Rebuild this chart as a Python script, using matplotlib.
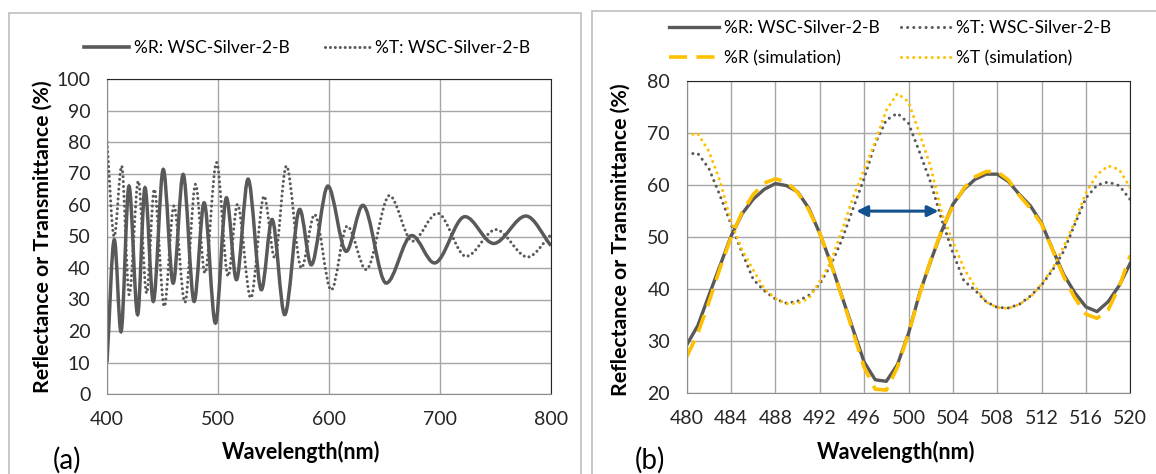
import matplotlib
matplotlib.use("Agg")
import matplotlib.pyplot as plt
from matplotlib.path import Path
from matplotlib.patches import PathPatch, Rectangle
from matplotlib.lines import Line2D

plt.rcParams['font.family'] = ['Lato', 'DejaVu Sans']

# ---- panel (a): turning points ----
r_wl = [400, 406.6, 412.6, 419.8, 427.6, 434.2, 441.7, 450.7, 459.6, 468.6,
        478.5, 487.5, 497.7, 507.6, 516.6, 527.1, 539.1, 548.7, 560.1, 573.6,
        584, 599, 615.5, 630.5, 651.5, 674.6, 695, 722.5, 748.3, 777.4, 800]
r_val = [10, 49, 19.8, 66, 25.2, 65.5, 29.4, 71.3, 35.2, 69.7,
         29.4, 60.7, 22.5, 62.3, 36.3, 68.2, 33.1, 55.4, 25.2, 58.6,
         41, 66, 45.3, 59.9, 35.2, 50.3, 41.6, 56.3, 47.8, 56.5, 47.1]

t_wl = [400, 406.5, 413.2, 420, 428.2, 435.7, 442.6, 451.6, 460.3, 470.2,
        479.8, 488.2, 498.7, 509.1, 517.5, 529.5, 541.5, 551.1, 561.6, 575.1,
        587, 602, 616.4, 633.5, 654.5, 675, 697.7, 723.5, 750.4, 778.9, 800]
t_val = [80, 50, 72.4, 31.5, 67.6, 32, 65, 27.8, 59.7, 29.1,
         66.6, 38.4, 73.5, 37.4, 60.2, 30.5, 62.8, 43.2, 72.4, 40,
         57, 33, 53.3, 39.5, 63, 48.5, 57.4, 43.7, 52.2, 43.5, 50.6]

# ---- panel (b): 1 nm readings, measured vs simulation ----
wl_b = list(range(480, 521))
r_meas = [29.3, 33.0, 38.8, 44.5, 50.2, 54.5, 57.3, 59.2, 60.3, 59.9,
          58.7, 55.6, 50.7, 45.0, 38.6, 32.3, 26.0, 22.6, 22.3, 25.5,
          31.5, 39.2, 45.4, 51.2, 56.3, 59.2, 61.1, 62.1, 62.1, 60.7,
          58.2, 56.0, 52.7, 47.6, 42.8, 39.3, 36.6, 35.7, 37.6, 40.7, 45.0]
t_meas = [66.0, 66.1, 63.2, 58.0, 52.5, 47.0, 41.9, 39.7, 38.1, 37.3,
          37.7, 38.8, 41.0, 44.7, 49.5, 55.5, 61.3, 68.0, 72.5, 73.8,
          71.9, 66.3, 60.5, 53.3, 47.0, 41.6, 39.8, 37.6, 36.5, 36.4,
          37.1, 38.7, 40.8, 43.7, 47.3, 52.5, 57.5, 60.0, 60.6, 59.9, 57.2]
r_sim = [27.0, 31.5, 37.5, 44.0, 50.0, 54.8, 58.2, 60.4, 61.2, 60.6,
         58.6, 55.3, 50.7, 45.0, 38.5, 31.8, 25.0, 20.8, 20.6, 25.0,
         31.5, 39.0, 45.6, 51.3, 56.0, 59.4, 61.6, 62.6, 62.6, 61.0,
         58.0, 55.5, 52.5, 47.5, 42.4, 38.3, 35.2, 34.4, 36.0, 40.5, 46.5]
t_sim = [69.6, 69.9, 66.5, 60.8, 53.0, 47.5, 43.7, 40.1, 38.2, 37.2,
         37.3, 38.2, 41.5, 45.3, 51.3, 57.6, 63.0, 68.3, 74.4, 77.6,
         76.0, 69.9, 63.5, 54.6, 49.1, 44.0, 40.5, 37.5, 36.5, 36.3,
         37.1, 38.5, 41.0, 44.0, 48.2, 53.0, 58.5, 62.0, 63.7, 63.0, 59.5]

arrow_span = (495.3, 502.7)
arrow_level = 55

GREY = "#595959"
GOLD = "#FFC000"
BLUE = "#12508E"
W, H = 1156, 474


def smooth_path(xs, ys):
    """Bezier path through the points, flat at every turning point."""
    n = len(xs)
    slopes = []
    for i in range(n):
        if i == 0:
            s = (ys[1] - ys[0]) / (xs[1] - xs[0])
        elif i == n - 1:
            s = (ys[-1] - ys[-2]) / (xs[-1] - xs[-2])
        elif (ys[i] - ys[i - 1]) * (ys[i + 1] - ys[i]) <= 0:
            s = 0.0
        else:
            s = (ys[i + 1] - ys[i - 1]) / (xs[i + 1] - xs[i - 1])
        slopes.append(s)
    verts = [(xs[0], ys[0])]
    codes = [Path.MOVETO]
    for i in range(n - 1):
        d = (xs[i + 1] - xs[i]) / 3
        verts += [(xs[i] + d, ys[i] + slopes[i] * d),
                  (xs[i + 1] - d, ys[i + 1] - slopes[i + 1] * d),
                  (xs[i + 1], ys[i + 1])]
        codes += [Path.CURVE4] * 3
    return Path(verts, codes)


def style_axes(ax):
    ax.grid(True, color="#A6A6A6", lw=1)
    ax.set_axisbelow(True)
    ax.tick_params(length=0, pad=12, labelsize=14, colors="#262626")
    for side in ("left", "bottom"):
        ax.spines[side].set_color("#8C8C8C")
    for side in ("top", "right"):
        ax.spines[side].set_color("#262626")


fig = plt.figure(figsize=(W / 100, H / 100), dpi=100)

# panel frames
fig.patches.append(Rectangle((9 / W, -0.1), 572 / W, 1.1 - 13 / H, transform=fig.transFigure,
                             fill=False, ec="#BFBFBF", lw=1.2))
fig.patches.append(Rectangle((592 / W, -0.1), 0.5, 1.1 - 11 / H, transform=fig.transFigure,
                             fill=False, ec="#BFBFBF", lw=1.2))

# ---- (a) ----
ax_a = fig.add_axes([107 / W, 1 - 394 / H, 444 / W, 315 / H])
ax_a.add_patch(PathPatch(smooth_path(t_wl, t_val), fill=False, ec=GREY, lw=2.2,
                         ls=(0, (0.01, 1.6)), capstyle="round"))
ax_a.add_patch(PathPatch(smooth_path(r_wl, r_val), fill=False, ec=GREY, lw=2.5))
ax_a.set_xlim(400, 800)
ax_a.set_ylim(0, 100)
ax_a.set_xticks(range(400, 801, 100))
ax_a.set_yticks(range(0, 101, 10))
style_axes(ax_a)

handles_a = [Line2D([], [], color=GREY, lw=2.6),
             Line2D([], [], color=GREY, lw=2.2, ls=(0, (0.01, 1.6)), dash_capstyle="round")]
fig.legend(handles_a, ["%R: WSC-Silver-2-B", "%T: WSC-Silver-2-B"], loc="center",
           bbox_to_anchor=(307 / W, 1 - 48 / H), ncol=2, frameon=False, fontsize=12.5,
           handlelength=2.6, columnspacing=2.0, handletextpad=0.3)

fig.text(43 / W, 1 - 237 / H, "Reflectance or Transmittance (%)", rotation=90,
         ha="center", va="center", fontsize=15.3, fontweight="bold")
fig.text(301 / W, 1 - 452 / H, "Wavelength(nm)", ha="center", va="center",
         fontsize=15.5, fontweight="bold")
fig.text(67 / W, 1 - 460 / H, "(a)", ha="center", va="center", fontsize=20)

# ---- (b) ----
ax_b = fig.add_axes([686.7 / W, 1 - 393.3 / H, 443.6 / W, 312.3 / H])
ax_b.plot(wl_b, r_meas, color=GREY, lw=2.4, label="%R: WSC-Silver-2-B")
ax_b.plot(wl_b, t_meas, color=GREY, lw=2.2, ls=(0, (0.01, 2.0)), dash_capstyle="round",
          label="%T: WSC-Silver-2-B")
ax_b.plot(wl_b, r_sim, color=GOLD, lw=2.6, ls=(0, (5, 2.6)), label="%R (simulation)")
ax_b.plot(wl_b, t_sim, color=GOLD, lw=2.2, ls=(0, (0.01, 2.0)), dash_capstyle="round",
          label="%T (simulation)")
ax_b.annotate("", xy=(arrow_span[0], arrow_level), xytext=(arrow_span[1], arrow_level),
              arrowprops=dict(arrowstyle="<|-|>", color=BLUE, lw=2.2, mutation_scale=16,
                              shrinkA=0, shrinkB=0))
ax_b.set_xlim(480, 520)
ax_b.set_ylim(20, 80)
ax_b.set_xticks(range(480, 521, 4))
ax_b.set_yticks(range(20, 81, 10))
style_axes(ax_b)

h, l = ax_b.get_legend_handles_labels()
fig.legend([h[0], h[2], h[1], h[3]], [l[0], l[2], l[1], l[3]], loc="center",
           bbox_to_anchor=(890 / W, 1 - 43 / H), ncol=2, frameon=False, fontsize=12.5,
           handlelength=2.9, columnspacing=1.2, handletextpad=0.3, labelspacing=0.8)

fig.text(621 / W, 1 - 240 / H, "Reflectance or Transmittance (%)", rotation=90,
         ha="center", va="center", fontsize=15.3, fontweight="bold")
fig.text(896 / W, 1 - 452 / H, "Wavelength(nm)", ha="center", va="center",
         fontsize=15.5, fontweight="bold")
fig.text(650 / W, 1 - 460 / H, "(b)", ha="center", va="center", fontsize=20)

fig.savefig("out.png", dpi=100)
